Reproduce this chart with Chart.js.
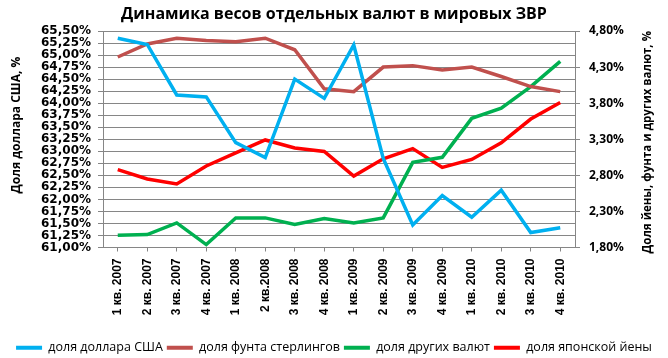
<!DOCTYPE html>
<html>
<head>
<meta charset="utf-8">
<script src="https://cdn.jsdelivr.net/npm/chart.js@4"></script>
<style>
html,body{margin:0;padding:0;background:#fff;}
#wrap{width:668px;height:358px;position:relative;}
</style>
</head>
<body>
<div id="wrap"><canvas id="c" width="668" height="358"></canvas></div>
<script>
const chartTitle = 'Динамика весов отдельных валют в мировых ЗВР';
const leftAxisTitle = 'Доля доллара США, %';
const rightAxisTitle = 'Доля йены, фунта и других валют, %';
const categories = ['1 кв. 2007','2 кв. 2007','3 кв. 2007','4 кв. 2007','1 кв. 2008','2 кв.2008','3 кв. 2008','4 кв. 2008','1 кв. 2009','2 кв. 2009','3 кв. 2009','4 кв. 2009','1 кв. 2010','2 кв. 2010','3 кв. 2010','4 кв. 2010'];
const seriesNames = ['доля доллара США','доля фунта стерлингов','доля других валют','доля японской йены'];
const usdShare   = [65.35,65.22,64.17,64.13,63.18,62.87,64.50,64.10,65.21,62.85,61.47,62.08,61.63,62.19,61.31,61.41];
const gbpShare   = [4.44,4.62,4.70,4.67,4.65,4.70,4.54,4.00,3.96,4.30,4.32,4.26,4.30,4.17,4.03,3.96];
const otherShare = [1.97,1.98,2.14,1.84,2.21,2.21,2.12,2.20,2.14,2.21,2.98,3.05,3.59,3.73,4.03,4.38];
const jpyShare   = [2.88,2.75,2.68,2.93,3.11,3.29,3.18,3.13,2.79,3.03,3.17,2.91,3.02,3.25,3.58,3.81];
const leftTicks  = [61.00,61.25,61.50,61.75,62.00,62.25,62.50,62.75,63.00,63.25,63.50,63.75,64.00,64.25,64.50,64.75,65.00,65.25,65.50];
const rightTicks = [1.80,2.30,2.80,3.30,3.80,4.30,4.80];

const colors = ['#00B0F0','#C0504D','#00B050','#FF0000'];
const gridColor = '#868686';
const fmt = v => v.toFixed(2).replace('.', ',') + '%';

const axisTitlesPlugin = {
  id: 'axisTitles',
  afterDraw(chart) {
    const ctx = chart.ctx;
    const area = chart.chartArea;
    const draw = (text, x, y, size) => {
      ctx.save();
      ctx.translate(x, y);
      ctx.rotate(-Math.PI / 2);
      ctx.font = 'bold ' + size + 'px "Open Sans"';
      ctx.fillStyle = '#000';
      ctx.textAlign = 'center';
      ctx.textBaseline = 'middle';
      ctx.fillText(text, 0, 0);
      ctx.restore();
    };
    draw(leftAxisTitle, 17, area.top + 94, 12);
    draw(rightAxisTitle, 648, (area.top + area.bottom) / 2 + 3, 11.5);
  }
};

new Chart(document.getElementById('c'), {
  type: 'line',
  data: {
    labels: categories,
    datasets: [
      {label: seriesNames[0], data: usdShare, yAxisID: 'y', borderColor: colors[0], backgroundColor: colors[0]},
      {label: seriesNames[1], data: gbpShare, yAxisID: 'y1', borderColor: colors[1], backgroundColor: colors[1]},
      {label: seriesNames[2], data: otherShare, yAxisID: 'y1', borderColor: colors[2], backgroundColor: colors[2]},
      {label: seriesNames[3], data: jpyShare, yAxisID: 'y1', borderColor: colors[3], backgroundColor: colors[3]}
    ].map(d => Object.assign(d, {borderWidth: 3.5, pointRadius: 0, tension: 0, fill: false}))
  },
  options: {
    responsive: false,
    animation: false,
    devicePixelRatio: 1,
    layout: {padding: {left: 0, right: 0, top: 0, bottom: -6}},
    plugins: {
      title: {
        display: true,
        text: chartTitle,
        color: '#000',
        font: {family: '"Open Sans"', size: 16, weight: 'bold'},
        padding: {top: 5, bottom: 6.8}
      },
      legend: {
        position: 'bottom',
        labels: {
          color: '#000',
          font: {family: '"Open Sans"', size: 12.5},
          boxWidth: 26,
          boxHeight: 4,
          padding: 4,
          generateLabels(chart) {
            return chart.data.datasets.map((d, i) => ({
              text: d.label, fillStyle: d.borderColor, strokeStyle: d.borderColor,
              lineWidth: 0, hidden: false, datasetIndex: i, fontColor: '#000'
            }));
          }
        }
      },
      tooltip: {enabled: false}
    },
    scales: {
      x: {
        offset: true,
        grid: {drawOnChartArea: false, tickLength: 4, color: gridColor, offset: false},
        border: {color: gridColor},
        ticks: {
          minRotation: 90, maxRotation: 90, autoSkip: false, padding: 7,
          color: '#000',
          font: {family: '"Liberation Sans"', size: 12, weight: 'bold'}
        },
        afterFit(scale) { scale.height = 90; }
      },
      y: {
        position: 'left',
        min: 61, max: 65.5,
        afterBuildTicks(scale) { scale.ticks = leftTicks.map(v => ({value: v})); },
        grid: {color: gridColor, tickLength: 5, lineWidth: 1},
        border: {color: gridColor},
        ticks: {
          autoSkip: false, padding: 7, color: '#000',
          font: {family: '"DejaVu Sans"', size: 12, weight: 'bold'},
          callback: v => fmt(v)
        },
        afterFit(scale) { scale.width = 103; }
      },
      y1: {
        position: 'right',
        min: 1.8, max: 4.8,
        afterBuildTicks(scale) { scale.ticks = rightTicks.map(v => ({value: v})); },
        grid: {drawOnChartArea: false, color: gridColor, tickLength: 5},
        border: {color: gridColor},
        ticks: {
          autoSkip: false, padding: 9, color: '#000',
          font: {family: '"Open Sans"', size: 12, weight: 'bold'},
          callback: v => fmt(v)
        },
        afterFit(scale) { scale.width = 93; }
      }
    }
  },
  plugins: [axisTitlesPlugin]
});
</script>
</body>
</html>
